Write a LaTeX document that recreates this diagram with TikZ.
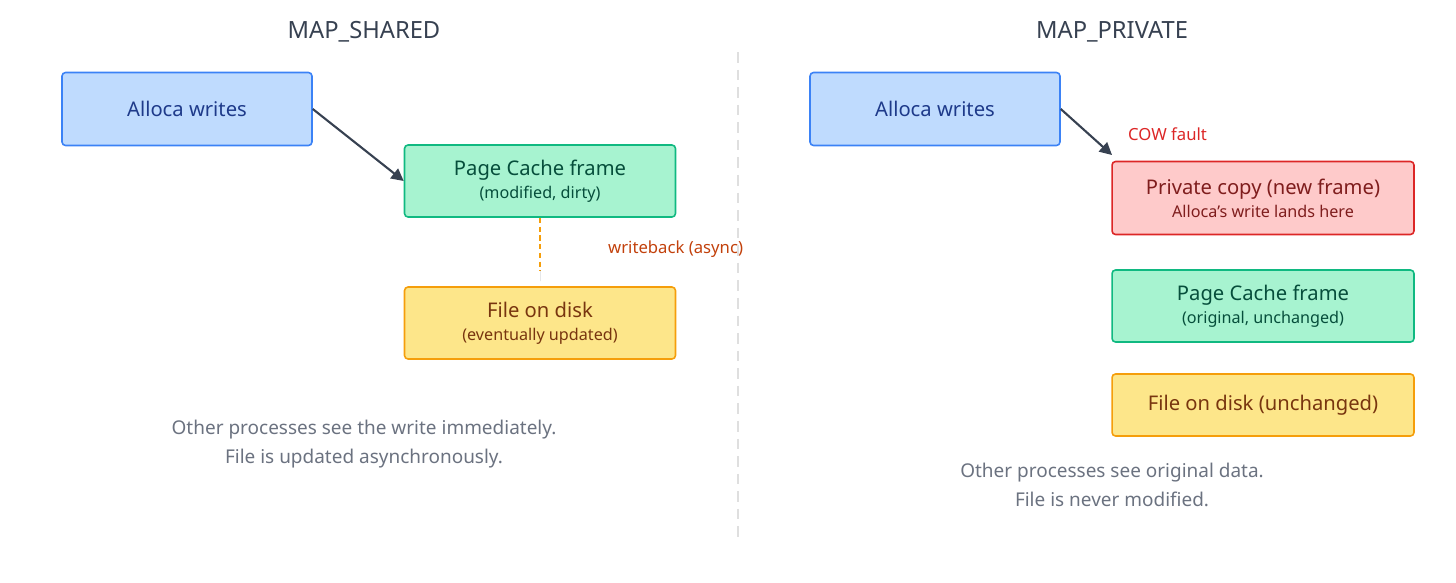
\documentclass[tikz,border=0pt]{standalone}
\usepackage{fontspec}
\setmainfont{Noto Sans}
\usetikzlibrary{arrows.meta}
\definecolor{blueF}{HTML}{BFDBFE}\definecolor{blueD}{HTML}{3B82F6}\definecolor{blueT}{HTML}{1E3A8A}
\definecolor{greenF}{HTML}{A7F3D0}\definecolor{greenD}{HTML}{10B981}\definecolor{greenT}{HTML}{064E3B}
\definecolor{yelF}{HTML}{FDE68A}\definecolor{yelD}{HTML}{F59E0B}\definecolor{yelT}{HTML}{78350F}
\definecolor{redF}{HTML}{FECACA}\definecolor{redD}{HTML}{DC2626}\definecolor{redT}{HTML}{7F1D1D}
\definecolor{titleC}{HTML}{374151}\definecolor{noteC}{HTML}{6B7280}\definecolor{wbC}{HTML}{C2410C}
\newcommand{\subtxt}{\fontsize{9.2}{11}\selectfont}
\tikzset{
  box/.style={draw, line width=0.9pt, rounded corners=2pt, align=center, inner sep=0pt,
    font=\fontsize{11.5}{14}\selectfont},
  bluebox/.style={box, fill=blueF, draw=blueD, text=blueT},
  greenbox/.style={box, fill=greenF, draw=greenD, text=greenT},
  yelbox/.style={box, fill=yelF, draw=yelD, text=yelT},
  redbox/.style={box, fill=redF, draw=redD, text=redT},
  title/.style={font=\bfseries\fontsize{13.5}{16}\selectfont, text=titleC},
  note/.style={font=\fontsize{10.8}{16.5}\selectfont, text=noteC, align=center},
  arr/.style={-{Triangle[length=7pt,width=7pt]}, line width=1.2pt, draw=titleC, fill=titleC}
}
\begin{document}
\begin{tikzpicture}[x=0.02cm,y=-0.02cm]
\useasboundingbox (0,0) rectangle (1456,582);
% left half
\node[title] (tl) at (364,32) {MAP\_SHARED};
\node[bluebox, minimum width=5cm, minimum height=1.46cm] (aw1) at (187,109) {Alloca writes};
\node[greenbox, minimum width=5.42cm, minimum height=1.44cm] (pc1) at (540,181)
  {Page Cache frame\\[-1pt]{\subtxt (modified, dirty)}};
\node[yelbox, minimum width=5.42cm, minimum height=1.44cm] (fd1) at (540,323)
  {File on disk\\[-1pt]{\subtxt (eventually updated)}};
\draw[arr] (aw1.east) -- (pc1.west);
\draw[line width=1.2pt, draw=yelD, dash pattern=on 3pt off 2pt] (pc1.south) -- ([yshift=0.3cm]fd1.north);
\draw[-{Triangle[length=7pt,width=7pt]}, line width=1.2pt, draw=none, fill=titleC]
  ([yshift=0.32cm]fd1.north) -- ([yshift=0.1cm]fd1.north);
\node[anchor=west, text=wbC, font=\fontsize{9.5}{11}\selectfont] (wb) at (602,249) {writeback (async)};
\node[note] (n1) at (364,444) {Other processes see the write immediately.\\File is updated asynchronously.};
% divider
\coordinate (d1) at (738,52); \coordinate (d2) at (738,540);
\draw[line width=1.2pt, draw=gray!25, dash pattern=on 6pt off 4pt] (d1) -- (d2);
% right half
\node[title] (tr) at (1112,32) {MAP\_PRIVATE};
\node[bluebox, minimum width=5cm, minimum height=1.46cm] (aw2) at (935,109) {Alloca writes};
\node[redbox, minimum width=6.04cm, minimum height=1.46cm] (pv) at (1263,198)
  {Private copy (new frame)\\[-1pt]{\subtxt Alloca's write lands here}};
\node[greenbox, minimum width=6.04cm, minimum height=1.44cm] (pc2) at (1263,306)
  {Page Cache frame\\[-1pt]{\subtxt (original, unchanged)}};
\node[yelbox, minimum width=6.04cm, minimum height=1.24cm] (fd2) at (1263,405)
  {File on disk (unchanged)};
\coordinate (pvc) at (1112,155);
\draw[arr] (aw2.east) -- (pvc);
\node[anchor=west, text=redD, font=\fontsize{9.5}{11}\selectfont] (cow) at (1122,134) {COW fault};
\node[note] (n2) at (1112,485) {Other processes see original data.\\File is never modified.};
\end{tikzpicture}
\end{document}
